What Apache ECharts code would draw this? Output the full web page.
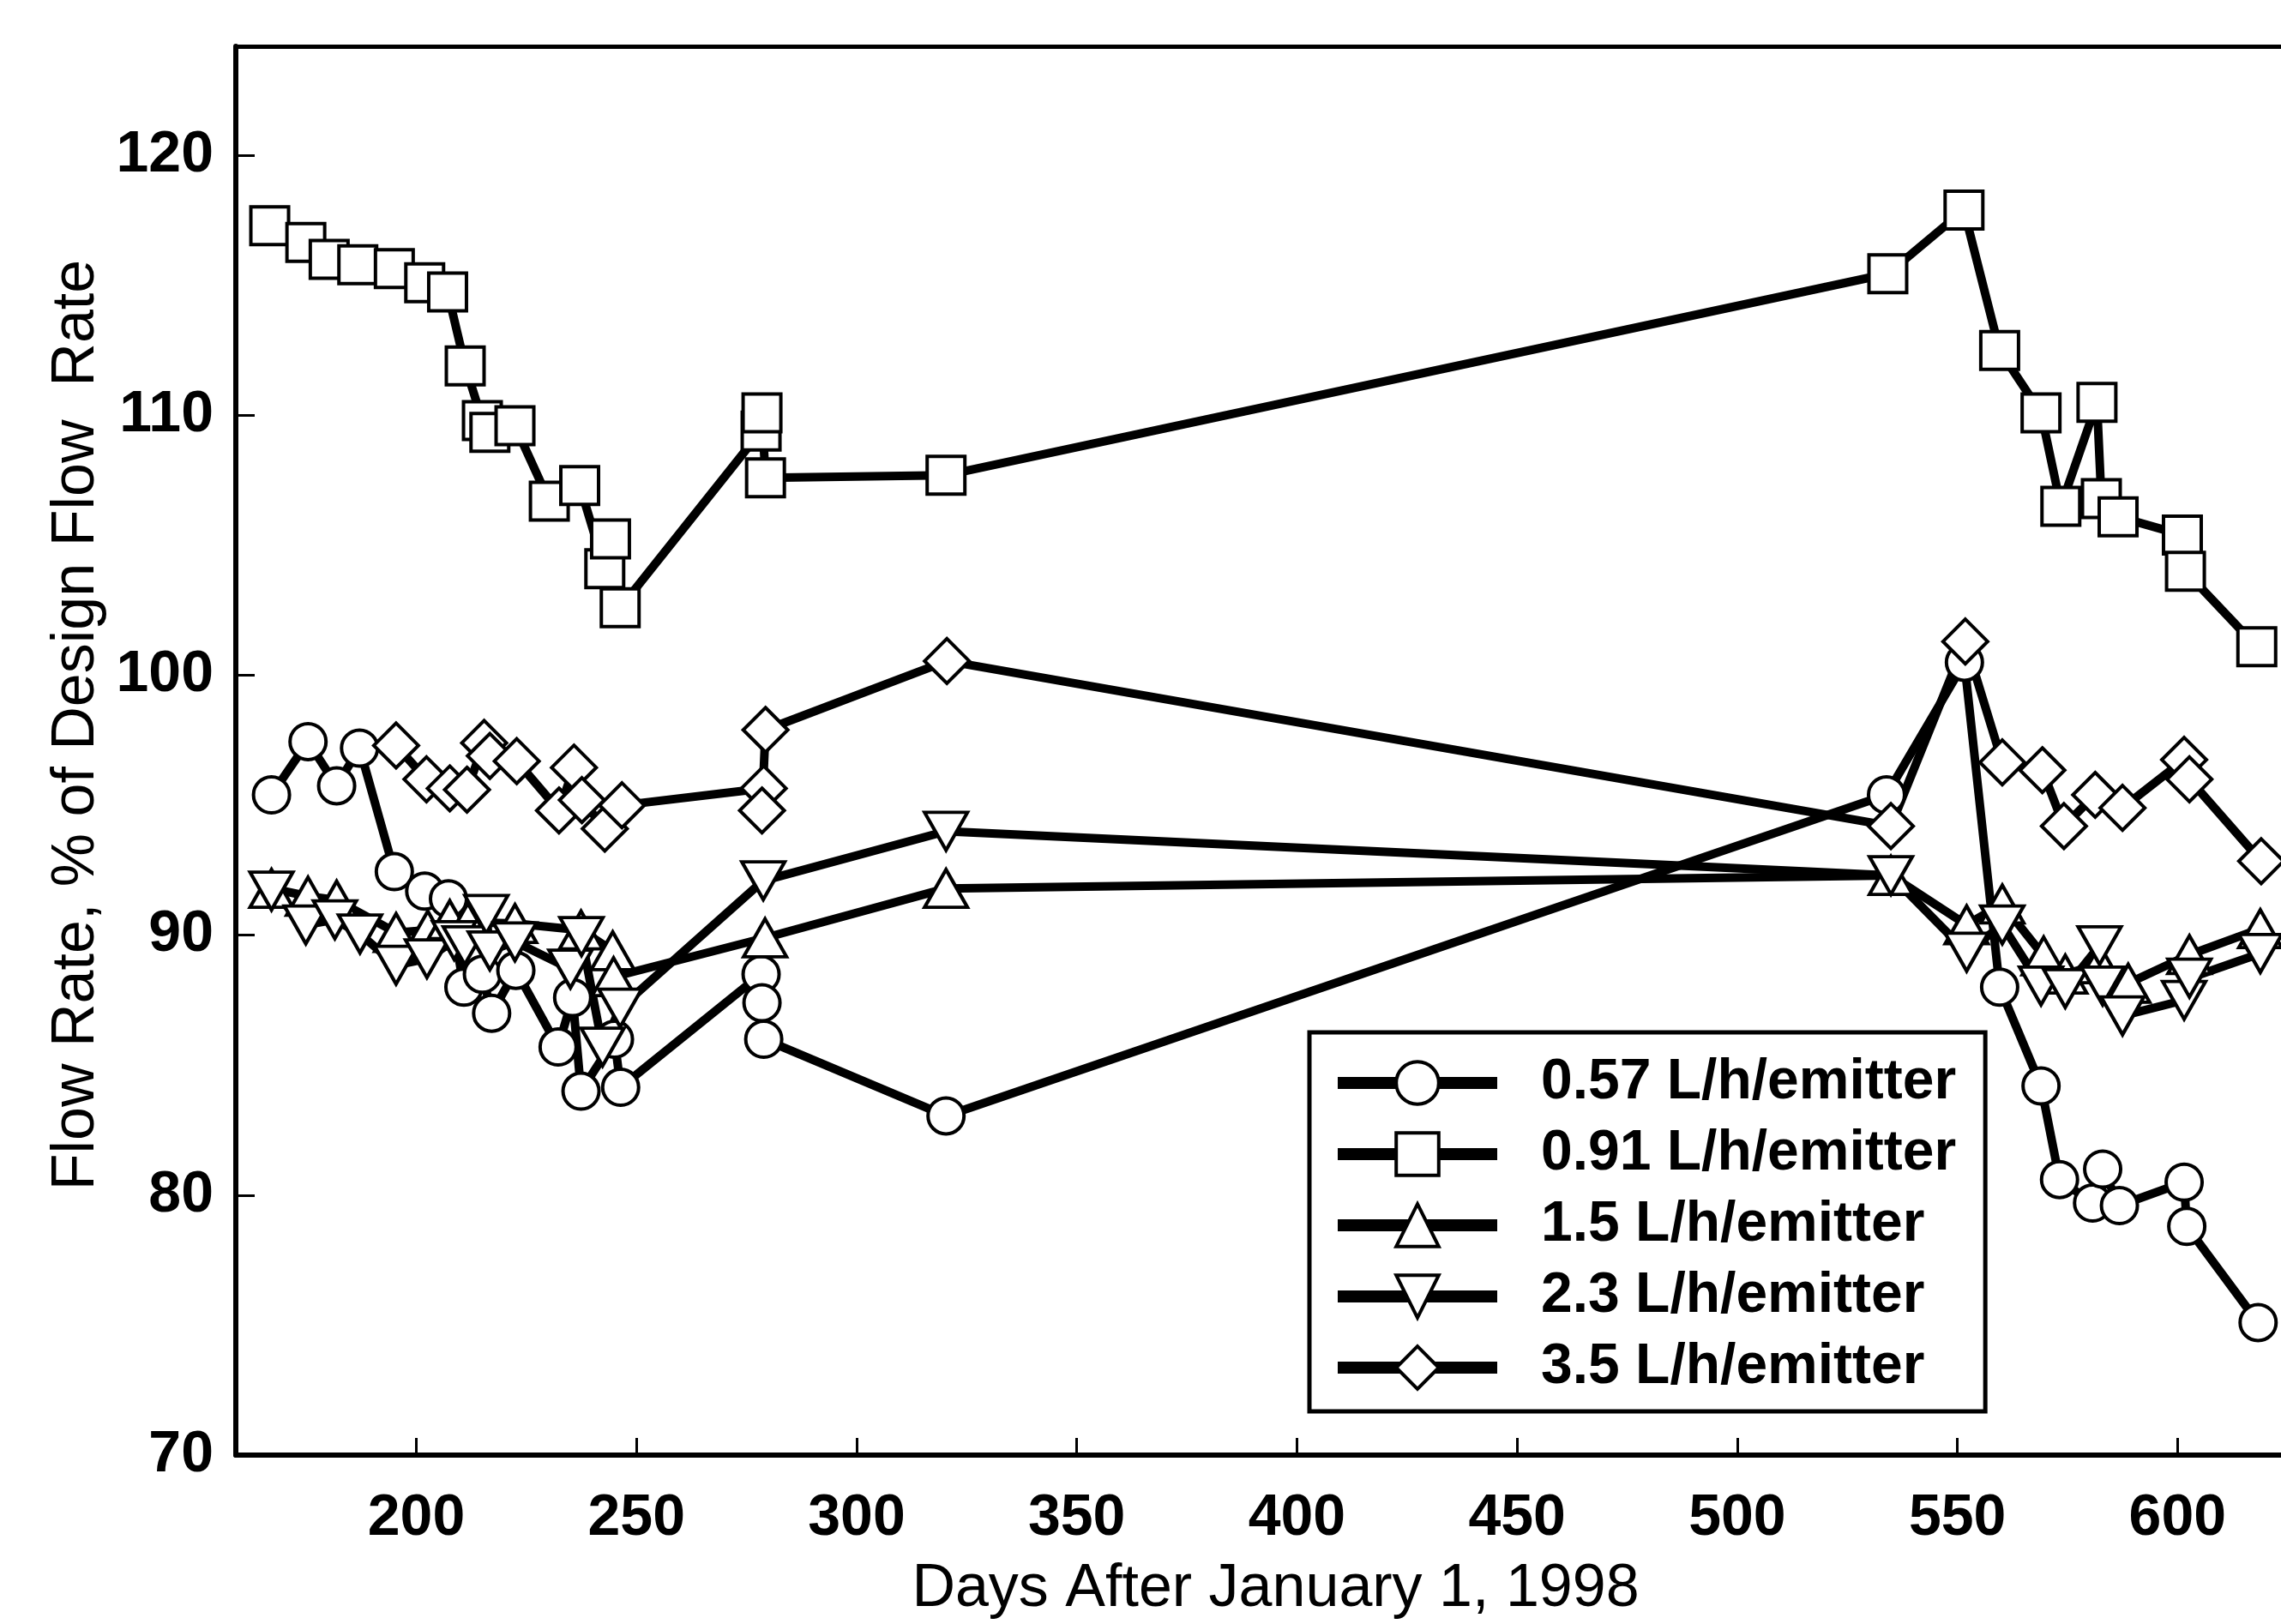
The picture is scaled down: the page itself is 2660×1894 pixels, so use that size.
<!DOCTYPE html>
<html>
<head>
<meta charset="utf-8">
<script src="https://cdn.jsdelivr.net/npm/echarts@6.0.0/dist/echarts.min.js"></script>
<style>
html,body{margin:0;padding:0;background:#fff;}
#chart{width:2660px;height:1894px;}
</style>
</head>
<body>
<div id="chart"></div>
<script>
// ---- data (day after Jan 1 1998, flow rate % of design) ----
const seriesNames = ['0.57 L/h/emitter', '0.91 L/h/emitter', '1.5 L/h/emitter', '2.3 L/h/emitter', '3.5 L/h/emitter'];
const xTicks = [200, 250, 300, 350, 400, 450, 500, 550, 600];
const yTicks = [70, 80, 90, 100, 110, 120];

const flow057 = [
  [167.1,95.4],[175.4,97.45],[181.9,95.75],[187.1,97.2],[195.0,92.45],[201.9,91.7],[207.3,91.4],
  [210.8,88.0],[215.0,88.5],[217.1,87.0],[222.6,88.65],[232.2,85.7],[235.5,87.6],[237.4,84.0],
  [245.0,86.0],[246.4,84.15],[278.3,88.5],[278.5,87.4],[278.9,86.0],[320.3,83.05],
  [533.9,95.4],[551.6,100.5],[559.6,88.0],[569.0,84.2],[573.2,80.6],[580.7,79.7],[583.0,81.0],
  [586.8,79.6],[601.5,80.5],[602.1,78.8],[618.3,75.1]
];
const flow091 = [
  [166.7,117.3],[174.9,116.65],[180.2,116.0],[186.7,115.8],[195.0,115.65],[201.9,115.1],[207.1,114.75],
  [211.1,111.9],[215.0,109.8],[216.7,109.35],[222.4,109.6],[230.2,106.7],[237.1,107.3],[242.8,104.1],
  [244.1,105.25],[246.3,102.6],[278.3,109.4],[278.5,110.1],[279.3,107.6],[320.3,107.7],
  [534.2,115.45],[551.5,117.9],[559.6,112.5],[569.0,110.1],[573.5,106.5],[581.7,110.5],[582.7,106.8],
  [586.5,106.1],[601.1,105.4],[601.8,104.0],[618.0,101.1]
];
const flow15 = [
  [167.1,91.8],[175.4,91.5],[181.9,91.35],[195.4,90.1],[202.6,90.2],[207.6,90.6],[211.7,90.5],
  [222.4,90.45],[237.4,90.2],[244.6,89.4],[244.8,88.4],[279.2,89.9],[320.3,91.8],
  [534.9,92.3],[552.1,90.4],[560.2,91.2],[569.6,89.2],[574.5,88.5],[582.3,88.9],[588.8,88.15],
  [602.7,89.25],[618.8,90.25]
];
const flow23 = [
  [167.1,91.7],[174.9,90.4],[181.5,90.6],[187.2,90.05],[195.4,88.85],[202.4,89.1],[208.6,89.8],
  [211.0,89.6],[215.9,90.8],[216.7,89.4],[222.4,89.75],[235.0,88.7],[237.5,89.95],[242.3,85.7],
  [246.3,87.2],[278.8,92.1],[320.3,94.0],
  [534.9,92.3],[552.1,89.35],[560.2,90.4],[569.0,88.05],[574.5,87.95],[582.3,89.6],[583.0,88.05],
  [587.5,86.9],[601.5,87.5],[602.7,88.35],[618.8,89.3]
];
const flow35 = [
  [195.4,97.3],[202.3,96.0],[207.6,95.65],[211.5,95.6],[215.4,97.4],[216.7,96.9],[222.8,96.7],
  [232.4,94.8],[235.8,96.45],[237.6,95.2],[242.8,94.1],[246.7,95.0],[278.9,95.65],[278.5,94.8],
  [279.3,97.9],[320.5,100.55],
  [534.9,94.2],[551.8,101.3],[560.2,96.65],[569.3,96.35],[574.2,94.2],[581.3,95.4],[587.5,94.9],
  [601.5,96.75],[602.7,96.0],[619.0,92.85]
];

const FONT = '"Liberation Sans", Arial, Helvetica, sans-serif';
const chart = echarts.init(document.getElementById('chart'), null, {renderer: 'canvas'});

function mk(name, data, symbol, size, rotate) {
  return {
    name: name,
    type: 'line',
    data: data,
    symbol: symbol,
    symbolSize: size,
    symbolRotate: rotate || 0,
    showAllSymbol: true,
    clip: false,
    lineStyle: {color: '#000', width: 10},
    itemStyle: {color: '#fff', borderColor: '#000', borderWidth: 4},
    emphasis: {disabled: true},
    animation: false
  };
}

const option = {
  animation: false,
  backgroundColor: '#fff',
  grid: {left: 275, right: 0, top: 54, bottom: 191, containLabel: false},
  xAxis: [{
    type: 'value', min: 159, max: 623.5,
    position: 'bottom',
    name: 'Days After January 1, 1998',
    nameLocation: 'middle', nameGap: 122,
    nameTextStyle: {fontFamily: FONT, fontSize: 70, color: '#000', padding: [0, 0, 0, 40]},
    axisLine: {show: true, onZero: false, lineStyle: {color: '#000', width: 6}},
    axisTick: {show: true, inside: true, length: 20, lineStyle: {color: '#000', width: 3}, customValues: xTicks},
    axisLabel: {fontFamily: FONT, fontSize: 68, fontWeight: 'bold', color: '#000', margin: 40, customValues: xTicks},
    splitLine: {show: false}
  }, {
    type: 'value', min: 159, max: 623.5,
    position: 'top',
    axisLine: {show: true, onZero: false, lineStyle: {color: '#000', width: 5}},
    axisTick: {show: false}, axisLabel: {show: false}, splitLine: {show: false}
  }],
  yAxis: {
    type: 'value', min: 70, max: 124.2,
    name: 'Flow Rate, % of Design Flow  Rate',
    nameLocation: 'middle', nameGap: 145,
    nameTextStyle: {fontFamily: FONT, fontSize: 70, color: '#000', padding: [0, 0, 0, 60]},
    axisLine: {show: true, onZero: false, lineStyle: {color: '#000', width: 6}},
    axisTick: {show: true, inside: true, length: 22, lineStyle: {color: '#000', width: 3}, customValues: yTicks},
    axisLabel: {fontFamily: FONT, fontSize: 68, fontWeight: 'bold', color: '#000', margin: 26, customValues: yTicks},
    splitLine: {show: false}
  },
  legend: {
    orient: 'vertical',
    left: 1527, top: 1204,
    data: seriesNames,
    itemWidth: 186, itemHeight: 62, itemGap: 17,
    padding: [26, 34, 18, 26],
    borderColor: '#000', borderWidth: 5, backgroundColor: '#fff',
    selectedMode: false,
    lineStyle: {width: 14, color: '#000'},
    itemStyle: {color: '#fff', borderColor: '#000', borderWidth: 4},
    textStyle: {fontFamily: FONT, fontSize: 66, fontWeight: 'bold', color: '#000', padding: [0, 0, 0, 46]}
  },
  series: [
    mk(seriesNames[0], flow057, 'circle', 42),
    mk(seriesNames[1], flow091, 'rect', 44),
    mk(seriesNames[2], flow15, 'triangle', [50, 44]),
    mk(seriesNames[3], flow23, 'triangle', [50, 44], 180),
    mk(seriesNames[4], flow35, 'diamond', [52, 52])
  ]
};
chart.setOption(option);
</script>
</body>
</html>
